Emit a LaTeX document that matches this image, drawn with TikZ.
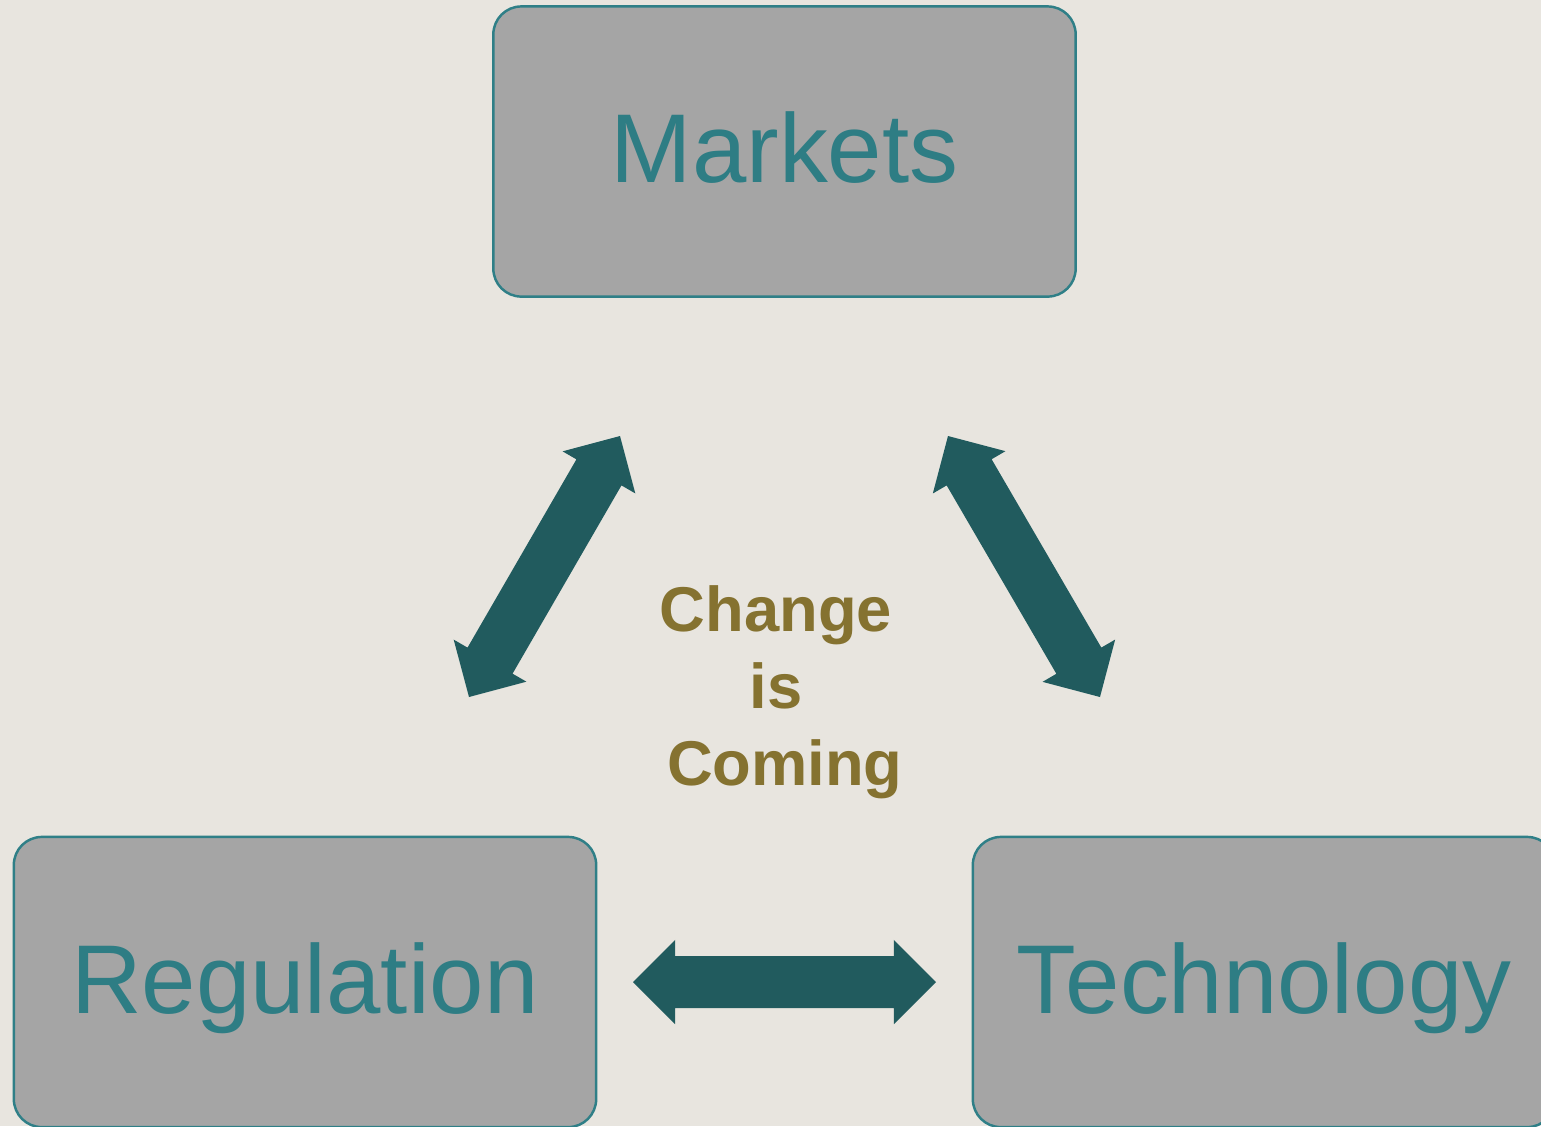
\documentclass[tikz,border=0pt]{standalone}
\usepackage{fontspec}
\setmainfont{Liberation Sans}
\usetikzlibrary{calc}

\definecolor{paper}{HTML}{E8E5DF}
\definecolor{blockfill}{HTML}{A5A5A5}
\definecolor{blockline}{HTML}{2F7F87}
\definecolor{blocktext}{HTML}{2E7D84}
\definecolor{arrowfill}{HTML}{215B5E}
\definecolor{changetext}{HTML}{857230}

\begin{document}
\begin{tikzpicture}[x=0.01cm,y=-0.01cm,
	block/.style={draw=blockline,line width=0.7pt,fill=blockfill,rounded corners=0.28cm,
		minimum width=5.82cm,minimum height=2.9cm,text=blocktext,
		font=\fontsize{27.8}{30}\selectfont,text height=20.6pt,text depth=2.8pt}]
	\def\hl{0.42cm}		%head length of the fat arrows
	\def\hw{0.42cm}		%half width of the heads
	\def\sw{0.26cm}		%half width of the shafts
	\useasboundingbox (0,0) rectangle (1541,1126);
	\fill[paper] (0,0) rectangle (1541,1126);	%background

	\node[block] (markets) at (784.5,151.5) {Markets};
	\node[block] (regulation) at (305,982) {Regulation};
	\node[block] (technology) at (1264,982) {Technology};

	\node[text=changetext,align=center,font=\fontsize{18}{21.9}\selectfont\bfseries] (change) at (776,692) {Change\\is\\\ Coming};

	%ends of the three double arrows
	\coordinate (rl) at (469,697);	\coordinate (ru) at (620,436);
	\coordinate (tu) at (948,436);	\coordinate (tl) at (1100,697);
	\coordinate (ml) at (633,982);	\coordinate (mr) at (936,982);

	\foreach \a/\b in {rl/ru,tu/tl,ml/mr}{
		\fill[arrowfill] (\a)
			-- ($(\a)!\hl!(\b)!\hw!90:(\b)$) -- ($(\a)!\hl!(\b)!\sw!90:(\b)$)	%tail side
			-- ($(\b)!\hl!(\a)!\sw!-90:(\a)$) -- ($(\b)!\hl!(\a)!\hw!-90:(\a)$)
			-- (\b)
			-- ($(\b)!\hl!(\a)!\hw!90:(\a)$) -- ($(\b)!\hl!(\a)!\sw!90:(\a)$)	%back along the other edge
			-- ($(\a)!\hl!(\b)!\sw!-90:(\b)$) -- ($(\a)!\hl!(\b)!\hw!-90:(\b)$)
			-- cycle;
	}
\end{tikzpicture}
\end{document}
